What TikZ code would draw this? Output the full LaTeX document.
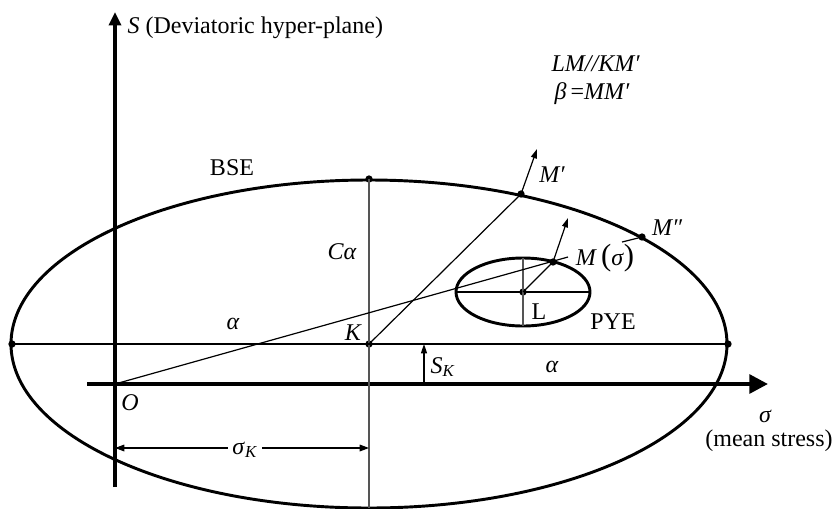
\documentclass[tikz,border=0pt]{standalone}
\usepackage{fontspec}
\setmainfont{Liberation Serif}
\usetikzlibrary{arrows.meta}
\definecolor{Ink}{HTML}{000000}
\definecolor{Rule}{HTML}{555555}
\tikzset{
  axisline/.style={draw=Ink,line width=3pt},
  rim/.style={draw=Ink,line width=2.2pt},
  fine/.style={draw=Ink,line width=0.9pt},
  guide/.style={draw=Rule,line width=0.9pt},
  tipline/.style={fine,-{Triangle[length=7pt,width=4.5pt]}},
  dimline/.style={fine,{Triangle[length=7pt,width=5pt]}-{Triangle[length=7pt,width=5pt]}},
  pt/.style={circle,fill=Ink,inner sep=0pt,minimum size=5.5pt},
  lbl/.style={font=\fontsize{18}{21}\selectfont,text=Ink,inner sep=1pt},
  ilbl/.style={font=\fontsize{18}{21}\selectfont\itshape,text=Ink,inner sep=1pt},
}
\newcommand{\bigpar}[1]{{\fontsize{23}{24}\selectfont\upshape#1}}

\begin{document}
\begin{tikzpicture}[x=0.75pt,y=-0.75pt]
\path[use as bounding box] (0,0) rectangle (836,508);

\coordinate (Sbot) at (115,487);
\coordinate (Stop) at (115,12);
\coordinate (Sigl) at (87,384);
\coordinate (Sigr) at (768,384);
\coordinate (O) at (115,384);
\coordinate (Kbot) at (369,508);
\coordinate (Lw) at (456,292);
\coordinate (Le) at (590,292);
\coordinate (Ln) at (523,258);
\coordinate (Ls) at (523,326);
\coordinate (Mext) at (568,257);
\coordinate (Mtip) at (568,218);
\coordinate (Mptip) at (537,149);
\coordinate (Mlead) at (622,242);
\coordinate (SKfoot) at (424,384);
\coordinate (SKhead) at (424,344);
\coordinate (dimL) at (115,448);
\coordinate (dimR) at (369,448);

\node[pt] (K) at (369,344) {};
\node[pt] (Ktop) at (369,179) {};
\node[pt] (Eleft) at (12,344) {};
\node[pt] (Eright) at (728,344) {};
\node[pt] (L) at (523,292) {};
\node[pt] (M) at (553,262) {};
\node[pt] (Mp) at (521,194) {};
\node[pt] (Mpp) at (642,237) {};

\draw[rim] (K.center) ellipse [x radius=268.5pt,y radius=123pt];
\draw[rim] (L.center) ellipse [x radius=50.25pt,y radius=25.5pt];

\draw[axisline,-{Triangle[length=10pt,width=9pt]}] (Sbot) -- (Stop);
\draw[axisline,-{Triangle[length=14pt,width=14pt]}] (Sigl) -- (Sigr);
\draw[guide] (Ktop.center) -- (Kbot);
\draw[fine] (Eleft.center) -- (Eright.center);
\draw[fine] (Lw) -- (Le);
\draw[guide] (Ln) -- (Ls);
\draw[fine] (O) -- (Mext);
\draw[fine] (L.center) -- (M.center);
\draw[tipline] (M.center) -- (Mtip);
\draw[fine] (K.center) -- (Mp.center);
\draw[tipline] (Mp.center) -- (Mptip);
\draw[fine] (Mpp.center) -- (Mlead);
\draw[tipline] (SKfoot) -- (SKhead);
\draw[dimline] (dimL) -- (dimR);

\node[lbl,anchor=west] (lblS) at (126,28) {\textit{S} (Deviatoric hyper-plane)};
\node[ilbl,anchor=west] (lblLM) at (550,64) {LM//KM′};
\node[ilbl,anchor=west] (lblBeta) at (553,94) {β\,\upshape=\itshape MM′};
\node[lbl] (lblBSE) at (232,168) {BSE};
\node[ilbl] (lblMp) at (552,175) {M′};
\node[ilbl] (lblMpp) at (667,228) {M″};
\node[lbl] (lblM) at (605,258) {\textit{M}\,\bigpar{(}\textit{σ}\bigpar{)}};
\node[ilbl] (lblCa) at (342,252) {Cα};
\node[ilbl] (lblAlphaL) at (233,324) {α};
\node[ilbl] (lblK) at (353,333) {K};
\node[lbl] (lblL) at (539,312) {L};
\node[lbl] (lblPYE) at (613,322) {PYE};
\node[lbl] (lblSK) at (443,367) {\textit{S}\textsubscript{\textit{K}}};
\node[ilbl] (lblAlphaR) at (552,367) {α};
\node[ilbl] (lblO) at (130,403) {O};
\node[lbl,fill=white,inner sep=3pt] (lblSigK) at (245,450) {\textit{σ}\textsubscript{\textit{K}}};
\node[ilbl] (lblSigma) at (765,416) {σ};
\node[lbl] (lblMean) at (769,441) {(mean stress)};
\end{tikzpicture}
\end{document}
